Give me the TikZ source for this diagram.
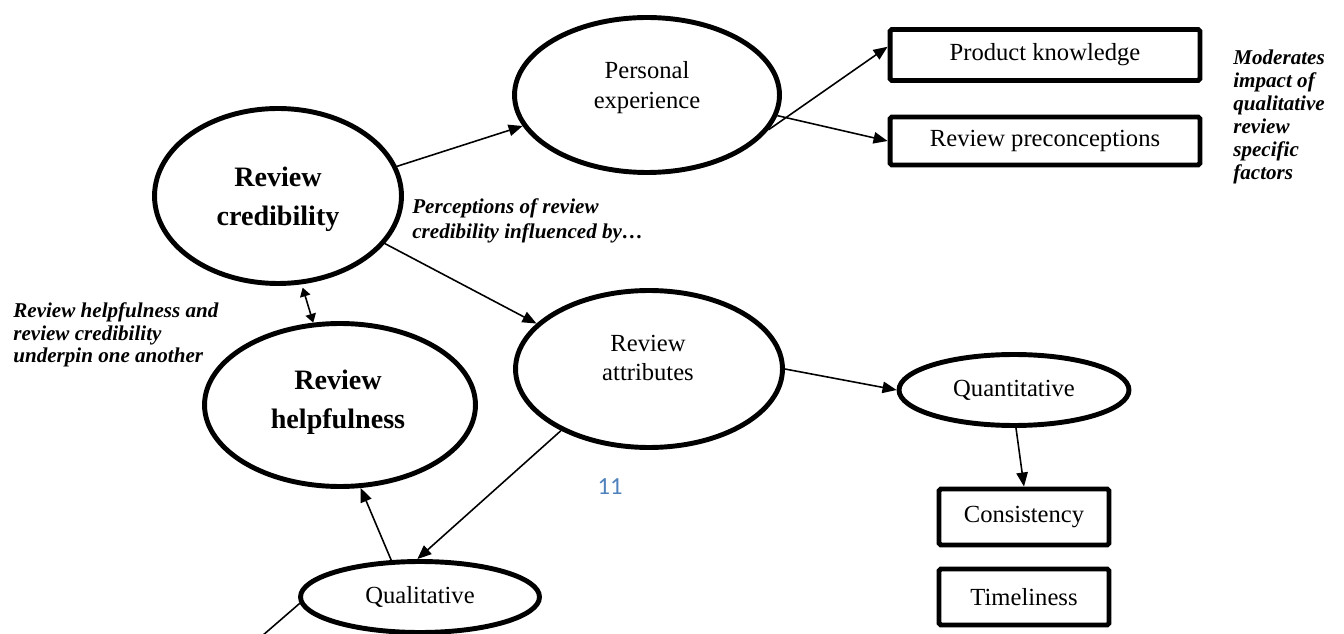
\documentclass[tikz,border=0pt]{standalone}
\usepackage{fontspec}
\setmainfont{Liberation Serif}
\newfontfamily\pagefont{Carlito}
\usetikzlibrary{shapes.geometric,arrows.meta}
\definecolor{pageblue}{HTML}{4F81BD}

\tikzset{
  oval/.style={ellipse, draw, line width=2.8pt, inner sep=0pt, align=center,
    font=\fontsize{14}{17}\selectfont},
  ovaltext/.style={inner sep=0pt, align=center, font=\fontsize{14}{17}\selectfont},
  boldtext/.style={inner sep=0pt, align=center, font=\fontsize{16}{22}\selectfont\bfseries},
  factorbox/.style={draw, line width=2.8pt, rounded corners=1pt, inner sep=0pt,
    font=\fontsize{14}{17}\selectfont},
  link/.style={-{Triangle[length=8pt,width=6.5pt]}, line width=0.9pt},
  note/.style={align=left, anchor=north west, inner sep=0pt,
    font=\fontsize{12}{13}\selectfont\bfseries\itshape},
}

\begin{document}
\begin{tikzpicture}[x=0.02cm, y=-0.02cm]
    \useasboundingbox (0,0) rectangle (1344,634);

    % Draw the ellipses
    \node[oval, minimum width=4.94cm, minimum height=3.5cm] (cred) at (278,196) {};
    \node[oval, minimum width=5.42cm, minimum height=3.26cm] (help) at (340,405) {};
    \node[oval, minimum width=5.3cm, minimum height=3.1cm] (pers) at (647,95) {};
    \node[oval, minimum width=5.34cm, minimum height=3.14cm] (attr) at (649,369) {};
    \node[oval, minimum width=4.6cm, minimum height=1.42cm] (quant) at (1014,390) {Quantitative};
    \node[oval, minimum width=4.78cm, minimum height=1.42cm] (qual) at (420,597) {Qualitative};

    % Text inside the ellipses
    \node[boldtext] (cred-t) at (278,199) {Review\\credibility};
    \node[boldtext] (help-t) at (338,402) {Review\\helpfulness};
    \node[ovaltext] (pers-t) at (647,88) {Personal\\experience};
    \node[ovaltext] (attr-t) at (648,358) {Review\\attributes};

    % Draw the boxes
    \node[factorbox, minimum width=6.2cm, minimum height=1.02cm] (pk) at (1045,55) {Product knowledge};
    \node[factorbox, minimum width=6.2cm, minimum height=0.96cm] (rp) at (1045,141) {Review preconceptions};
    \node[factorbox, minimum width=3.4cm, minimum height=1.12cm] (cons) at (1024,517) {Consistency};
    \node[factorbox, minimum width=3.4cm, minimum height=1.12cm] (time) at (1024,597) {Timeliness};

    % Draw the arrows
    \draw[link] (cred.14) -- (pers.194);
    \draw[link] (pers.-16) -- (pk.177);
    \draw[link] (pers.-9) -- (rp.west);
    \draw[link] (cred.-24) -- (attr.158);
    \draw[link] (attr.east) -- (quant.west);
    \draw[link] (quant.273) -- (cons.north);
    \draw[link] (attr.215) -- (qual.94);
    \draw[link] (qual.128) -- (help.-76);
    \draw[{Triangle[length=5pt,width=6pt]}-{Triangle[length=5pt,width=6pt]}, line width=0.9pt,
      shorten <=2pt] (cred.-75) -- (help.108);
    \coordinate (tail) at (262,636);
    \draw[line width=0.9pt] (qual.183) -- (tail);

    % Draw the notes
    \node[note, font=\fontsize{12}{14.5}\selectfont\bfseries\itshape] (percep) at (412,198) {Perceptions of review\\credibility influenced by\dots};
    \node[note] (underpin) at (13,302) {Review helpfulness and\\review credibility\\underpin one another};
    \node[note] (moder) at (1233,50) {Moderates\\impact of\\qualitative\\review\\specific\\factors};

    % Page number
    \node[text=pageblue, font=\pagefont\fontsize{14}{14}\selectfont] (pagenum) at (610,487) {11};
\end{tikzpicture}
\end{document}
